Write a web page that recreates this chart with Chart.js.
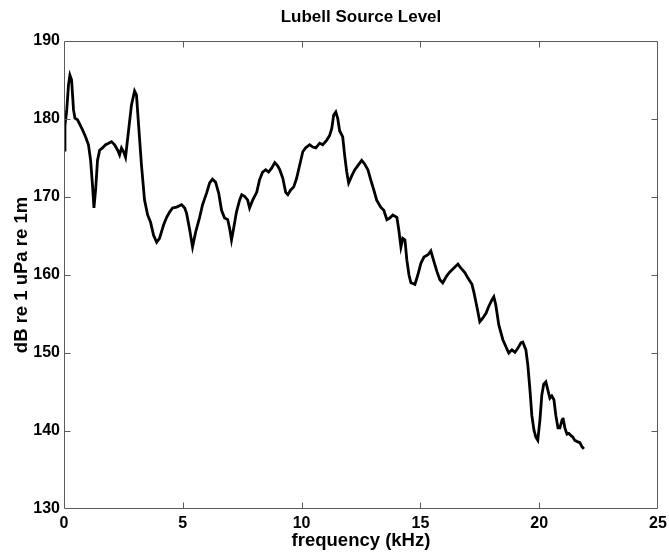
<!DOCTYPE html>
<html>
<head>
<meta charset="utf-8">
<script src="https://cdn.jsdelivr.net/npm/chart.js@4.4.0/dist/chart.umd.min.js"></script>
<style>
  html, body { margin: 0; padding: 0; background: #fff; }
  .chart { width: 669px; height: 554px; }
</style>
</head>
<body>
<div class="chart"><canvas id="c"></canvas></div>
<script>
// frequency (kHz) and source level (dB re 1 uPa re 1m)
const freqKHz = [
  0.00, 0.04, 0.11, 0.19, 0.25, 0.32, 0.40, 0.46, 0.57, 0.65, 0.78, 0.91, 1.03, 1.12, 1.20, 1.26,
  1.33, 1.41, 1.50, 1.62, 1.75, 1.88, 2.00, 2.13, 2.26, 2.34, 2.42, 2.51, 2.59, 2.72, 2.84, 2.97,
  3.05, 3.14, 3.26, 3.39, 3.52, 3.64, 3.77, 3.90, 4.02, 4.19, 4.32, 4.45, 4.57, 4.74, 4.95, 5.08,
  5.16, 5.29, 5.41, 5.54, 5.71, 5.83, 6.00, 6.13, 6.25, 6.38, 6.51, 6.63, 6.76, 6.89, 6.97, 7.05,
  7.14, 7.26, 7.39, 7.48, 7.60, 7.73, 7.81, 7.94, 8.11, 8.23, 8.36, 8.49, 8.61, 8.74, 8.87, 8.99,
  9.08, 9.21, 9.33, 9.42, 9.54, 9.67, 9.79, 9.92, 10.05, 10.17, 10.34, 10.47, 10.60, 10.76, 10.89, 11.06,
  11.18, 11.27, 11.35, 11.44, 11.52, 11.60, 11.73, 11.81, 11.90, 11.98, 12.11, 12.24, 12.36, 12.53, 12.66, 12.79,
  12.91, 13.04, 13.16, 13.33, 13.46, 13.59, 13.71, 13.84, 14.01, 14.09, 14.18, 14.26, 14.35, 14.43, 14.52, 14.60,
  14.77, 14.89, 15.02, 15.15, 15.32, 15.44, 15.57, 15.70, 15.82, 15.94, 16.11, 16.24, 16.41, 16.58, 16.70, 16.87,
  17.00, 17.17, 17.25, 17.38, 17.50, 17.63, 17.76, 17.88, 18.01, 18.09, 18.17, 18.30, 18.47, 18.60, 18.72, 18.85,
  18.98, 19.10, 19.23, 19.31, 19.44, 19.52, 19.61, 19.69, 19.78, 19.86, 19.94, 20.03, 20.11, 20.19, 20.28, 20.36,
  20.45, 20.53, 20.62, 20.70, 20.79, 20.87, 20.96, 21.00, 21.08, 21.17, 21.25, 21.34, 21.42, 21.50, 21.63, 21.71,
  21.80, 21.88
];
const levelDb = [
  176.0, 179.2, 180.9, 184.4, 185.6, 185.0, 181.2, 180.1, 179.9, 179.4, 178.6, 177.7, 176.7, 174.7, 171.5, 168.6,
  170.9, 174.7, 176.0, 176.3, 176.7, 176.9, 177.1, 176.7, 176.0, 175.4, 176.3, 175.8, 175.1, 178.6, 181.8, 183.6,
  183.1, 179.2, 174.1, 169.6, 167.7, 166.8, 165.1, 164.2, 164.7, 166.4, 167.4, 168.1, 168.6, 168.7, 169.0, 168.6,
  167.9, 165.8, 163.6, 165.5, 167.4, 169.0, 170.5, 171.8, 172.3, 171.9, 170.5, 168.3, 167.3, 167.1, 166.0, 164.5,
  166.0, 168.1, 169.6, 170.3, 170.1, 169.6, 168.6, 169.6, 170.6, 172.2, 173.2, 173.5, 173.2, 173.7, 174.4, 174.0,
  173.5, 172.4, 170.6, 170.3, 170.9, 171.3, 172.4, 174.1, 175.8, 176.3, 176.7, 176.4, 176.3, 176.9, 176.7, 177.3,
  177.9, 178.8, 180.5, 180.9, 180.1, 178.5, 177.7, 175.4, 173.2, 171.8, 172.7, 173.5, 174.0, 174.7, 174.2, 173.5,
  172.2, 170.9, 169.6, 168.7, 168.3, 167.1, 167.3, 167.7, 167.4, 165.8, 163.6, 164.7, 164.5, 161.9, 160.0, 159.0,
  158.8, 160.0, 161.5, 162.3, 162.6, 163.1, 161.7, 160.4, 159.4, 159.0, 159.9, 160.4, 160.9, 161.4, 160.9, 160.3,
  159.6, 158.8, 157.8, 155.9, 154.0, 154.5, 155.1, 156.0, 156.8, 157.2, 156.2, 153.6, 151.7, 150.8, 150.0, 150.4,
  150.1, 150.6, 151.3, 151.4, 150.4, 148.5, 145.3, 142.0, 140.1, 139.2, 138.8, 141.4, 144.6, 146.0, 146.3, 145.3,
  144.2, 144.5, 144.0, 142.0, 140.4, 140.4, 141.4, 141.7, 140.4, 139.6, 139.7, 139.4, 139.2, 138.8, 138.6, 138.5,
  138.0, 137.7
];
const xTicks = [0, 5, 10, 15, 20, 25];
const yTicks = [130, 140, 150, 160, 170, 180, 190];
const chartTitle = "Lubell Source Level";

const fontFamily = "'Liberation Sans', Arial, Helvetica, sans-serif";
const axisColor = "#5a5a5a";

// matlab style box with ticks pointing inward, title centred over the axes
const boxTicks = {
  id: "boxTicks",
  afterDraw(chart) {
    const { ctx, chartArea: a, scales } = chart;
    const L = Math.round(a.left) + 0.5;
    const R = Math.round(a.right) - 0.5;
    const T = Math.round(a.top) + 0.5;
    const B = Math.round(a.bottom) - 0.5;
    const len = 6;
    ctx.save();
    ctx.strokeStyle = axisColor;
    ctx.lineWidth = 1;
    ctx.beginPath();
    ctx.rect(L, T, R - L, B - T);
    scales.x.ticks.forEach((t) => {
      const px = Math.round(scales.x.getPixelForValue(t.value)) + 0.5;
      if (px <= L + 1 || px >= R - 1) return;
      ctx.moveTo(px, B); ctx.lineTo(px, B - len);
      ctx.moveTo(px, T); ctx.lineTo(px, T + len);
    });
    scales.y.ticks.forEach((t) => {
      const py = Math.round(scales.y.getPixelForValue(t.value)) + 0.5;
      if (py <= T + 1 || py >= B - 1) return;
      ctx.moveTo(L, py); ctx.lineTo(L + len, py);
      ctx.moveTo(R, py); ctx.lineTo(R - len, py);
    });
    ctx.stroke();

    ctx.fillStyle = "#000";
    ctx.font = "bold 17px " + fontFamily;
    ctx.textAlign = "center";
    ctx.textBaseline = "middle";
    ctx.fillText(chartTitle, (a.left + a.right) / 2, 17);
    ctx.restore();
  },
};

const ctx = document.getElementById("c").getContext("2d");

new Chart(ctx, {
  type: "line",
  data: {
    datasets: [
      {
        data: freqKHz.map((f, i) => ({ x: f, y: levelDb[i] })),
        borderColor: "#000",
        borderWidth: 2.8,
        pointRadius: 0,
        tension: 0,
        fill: false,
      },
    ],
  },
  options: {
    animation: false,
    responsive: true,
    maintainAspectRatio: false,
    parsing: false,
    layout: { padding: { top: 41, right: 11 } },
    plugins: {
      legend: { display: false },
      tooltip: { enabled: false },
      title: { display: false },
    },
    scales: {
      x: {
        type: "linear",
        min: 0,
        max: 25,
        afterBuildTicks: (s) => { s.ticks = xTicks.map((v) => ({ value: v })); },
        afterFit: (s) => { s.height = 45; s.paddingLeft = 0; s.paddingRight = 0; },
        grid: { display: false, drawTicks: false, tickLength: 0 },
        border: { display: false },
        ticks: {
          color: "#000",
          padding: 5,
          maxRotation: 0,
          font: { family: fontFamily, size: 16, weight: "bold" },
        },
        title: {
          display: true,
          text: "frequency (kHz)",
          color: "#000",
          font: { family: fontFamily, size: 18.5, weight: "bold" },
          padding: { top: 0, bottom: 2 },
        },
      },
      y: {
        min: 130,
        max: 190,
        afterBuildTicks: (s) => { s.ticks = yTicks.map((v) => ({ value: v })); },
        afterFit: (s) => { s.width = 64; s.paddingTop = 0; s.paddingBottom = 0; },
        grid: { display: false, drawTicks: false, tickLength: 0 },
        border: { display: false },
        ticks: {
          color: "#000",
          padding: 4,
          font: { family: fontFamily, size: 16, weight: "bold" },
        },
        title: {
          display: true,
          text: "dB re 1 uPa re 1m",
          color: "#000",
          font: { family: fontFamily, size: 18.5, weight: "bold" },
          padding: { top: 11, bottom: 0 },
        },
      },
    },
  },
  plugins: [boxTicks],
});
</script>
</body>
</html>
